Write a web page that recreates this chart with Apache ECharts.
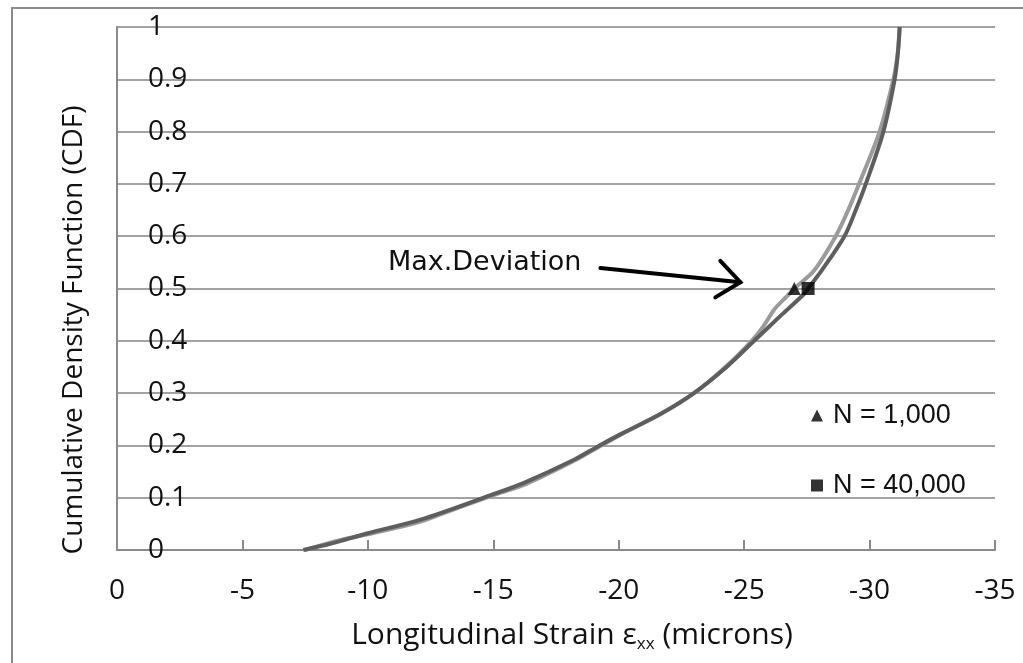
<!DOCTYPE html>
<html>
<head>
<meta charset="utf-8">
<script src="https://cdn.jsdelivr.net/npm/echarts@6/dist/echarts.min.js"></script>
<style>
html,body{margin:0;padding:0;background:#fff;}
#chart{width:1023px;height:663px;}
</style>
</head>
<body>
<div id="chart"></div>
<script>
// ---- data (strain in microns, CDF) ----
var n1000Curve = [
  [-7.5,0],[-8.8,0.018],[-10.0,0.03],[-12.0,0.053],[-13.0,0.07],[-14.9,0.103],
  [-16.3,0.126],[-18.2,0.17],[-19.2,0.197],[-20.1,0.221],[-21.7,0.261],[-23.0,0.3],
  [-24.3,0.352],[-25.3,0.4],[-25.8,0.43],[-26.2,0.46],[-26.7,0.485],[-27.0,0.5],
  [-27.8,0.535],[-28.65,0.6],[-29.15,0.65],[-29.7,0.714],[-30.4,0.8],[-30.95,0.9],
  [-31.12,0.95],[-31.2,1.0]
];
var n40000Curve = [
  [-7.43,0],[-8.5,0.012],[-10.0,0.032],[-12.1,0.058],[-14.9,0.105],[-16.2,0.128],
  [-18.2,0.172],[-19.2,0.199],[-20.1,0.222],[-21.7,0.261],[-23.0,0.3],[-24.3,0.35],
  [-25.4,0.4],[-26.5,0.45],[-27.4,0.49],[-27.55,0.5],[-28.1,0.535],[-29.0,0.6],
  [-29.45,0.65],[-29.85,0.7],[-30.55,0.8],[-31.0,0.9],[-31.13,0.95],[-31.2,1.0]
];
var maxDevN1000 = [[-27.0, 0.5]];
var maxDevN40000 = [[-27.55, 0.5]];
var legendNames = ['N = 1,000', 'N = 40,000'];
var xTitle = 'Longitudinal Strain ε';
var yTitle = 'Cumulative Density Function (CDF)';
var annotationText = 'Max.Deviation';
// annotation anchor points in data coordinates
var annotationTextPos = [-10.8, 0.549];
var arrowTail = [-19.27, 0.539];
var arrowTip = [-24.85, 0.512];
var arrowHeadA = [-24.05, 0.553];
var arrowHeadB = [-23.85, 0.483];

var chart = echarts.init(document.getElementById('chart'));
var axisGray = '#8a8a8a';
var gridGray = '#a2a2a2';
var textColor = '#111';
var tickFont = 'Open Sans';

var option = {
  backgroundColor: '#fff',
  animation: false,
  grid: {left: 117, top: 27, right: 28, bottom: 113, containLabel: false},
  xAxis: {
    type: 'value', min: -35, max: 0, interval: 5, inverse: true,
    axisLine: {show: true, lineStyle: {color: axisGray, width: 2}},
    axisTick: {show: true, inside: true, length: 10, lineStyle: {color: axisGray, width: 2}},
    axisLabel: {fontSize: 28, fontFamily: tickFont, color: textColor, margin: 27},
    splitLine: {show: false}
  },
  yAxis: {
    type: 'value', min: 0, max: 1, interval: 0.1,
    axisLine: {show: true, lineStyle: {color: axisGray, width: 2}},
    axisTick: {show: false},
    axisLabel: {inside: true, margin: 31, fontSize: 28, fontFamily: tickFont, color: textColor},
    splitLine: {show: true, lineStyle: {color: gridGray, width: 2}}
  },
  legend: {
    orient: 'vertical', left: 806, top: 397, itemGap: 43,
    itemWidth: 12, itemHeight: 12,
    data: legendNames,
    textStyle: {fontSize: 27, fontFamily: 'Liberation Sans', color: textColor, padding: [0,0,0,5]}
  },
  series: [
    {name: 'curve1000', type: 'line', data: n1000Curve, showSymbol: false, smooth: 0.3,
     lineStyle: {color: '#9b9b9b', width: 4}, z: 2},
    {name: 'curve40000', type: 'line', data: n40000Curve, showSymbol: false, smooth: 0.3,
     lineStyle: {color: '#5e5e5e', width: 4}, z: 3},
    {name: legendNames[0], type: 'scatter', data: maxDevN1000, symbol: 'triangle', symbolSize: 13,
     itemStyle: {color: '#000'}, z: 5},
    {name: legendNames[1], type: 'scatter', data: maxDevN40000, symbol: 'rect', symbolSize: 13,
     itemStyle: {color: '#000'}, z: 5}
  ]
};
chart.setOption(option);

function px(p){ return chart.convertToPixel({gridIndex: 0}, p); }
var tp = px(annotationTextPos), a0 = px(arrowTail), a1 = px(arrowTip), h1 = px(arrowHeadA), h2 = px(arrowHeadB);

chart.setOption({
  graphic: [
    {type: 'rect', shape: {x: 12, y: 8, width: 1200, height: 800}, silent: true,
     style: {fill: 'none', stroke: '#8c8c8c', lineWidth: 2}, z: 0},
    {type: 'text', x: 74, y: 330, rotation: Math.PI/2,
     style: {text: yTitle, fontSize: 28, fontFamily: tickFont, fill: textColor, align: 'center', verticalAlign: 'middle'}},
    {type: 'text', x: 572, y: 635,
     style: {text: '{a|' + xTitle + '}{s|xx}{a| (microns)}', align: 'center', verticalAlign: 'middle',
       rich: {
         a: {fontSize: 30, fontFamily: tickFont, fill: textColor, lineHeight: 36},
         s: {fontSize: 17, fontFamily: tickFont, fill: textColor, lineHeight: 36, verticalAlign: 'bottom', padding: [15,0,0,0]}
       }}},
    {type: 'text', x: tp[0], y: tp[1],
     style: {text: annotationText, fontSize: 27, fontFamily: 'DejaVu Sans', fill: textColor, align: 'left', verticalAlign: 'middle'}},
    {type: 'polyline', shape: {points: [a0, a1]}, style: {stroke: '#000', lineWidth: 4, fill: 'none', lineCap: 'round'}, z: 10},
    {type: 'polyline', shape: {points: [h1, a1, h2]}, style: {stroke: '#000', lineWidth: 4, fill: 'none', lineCap: 'round', lineJoin: 'miter'}, z: 10}
  ]
});
</script>
</body>
</html>
